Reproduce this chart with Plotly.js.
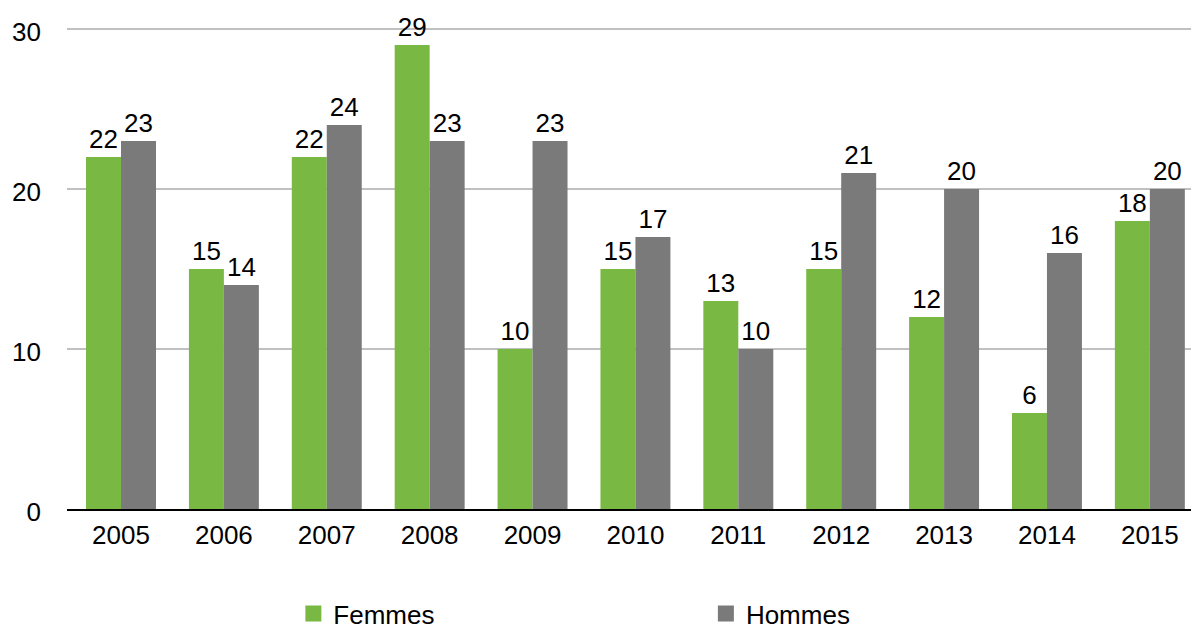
<!DOCTYPE html>
<html><head><meta charset="utf-8">
<script src="https://cdn.plot.ly/plotly-3.0.1.min.js"></script>
<style>html,body{margin:0;padding:0;background:#fff}#c{width:1191px;height:636px}</style>
</head><body><div id="c"></div>
<script>
const years = ["2005","2006","2007","2008","2009","2010","2011","2012","2013","2014","2015"];
const femmes = [22,15,22,29,10,15,13,15,12,6,18];
const hommes = [23,14,24,23,23,17,10,21,20,16,20];
const green = "#79b943", gray = "#7a7a7a";
const font = {family:"Liberation Sans, Arial, sans-serif", size:26, color:"#000"};
const bar = (name, y, color) => ({
  type:"bar", name, x:years, y, marker:{color}, text:y.map(String),
  textposition:"outside", textfont:font, constraintext:"none", cliponaxis:false, showlegend:false,
  hoverinfo:"x+y"
});
const leg = (name, color, legend) => ({
  type:"scatter", mode:"markers", name, x:[null], y:[null], legend,
  marker:{symbol:"square", size:17, color}, showlegend:true
});
const data = [bar("Femmes", femmes, green), bar("Hommes", hommes, gray),
              leg("Femmes", green, "legend"), leg("Hommes", gray, "legend2")];
const legBase = {orientation:"h", xanchor:"left", y:-0.168, yanchor:"top", font, bgcolor:"rgba(0,0,0,0)"};
const layout = {
  width:1191, height:636,
  margin:{l:67, r:0, t:26, b:127, autoexpand:false},
  paper_bgcolor:"#fff", plot_bgcolor:"#fff",
  font,
  barmode:"group", bargap:0.32, bargroupgap:0,
  xaxis:{type:"category", range:[-0.525,10.4], showgrid:false, ticks:"", tickfont:font,
         showline:true, linecolor:"#000", linewidth:2, zeroline:false, ticklabelstandoff:2},
  yaxis:{range:[0,30.1875], tickvals:[0,10,20,30], showgrid:true, gridcolor:"#c0c0c0", gridwidth:2,
         zeroline:false, tickfont:font, ticks:"", ticklabelstandoff:25, ticklabelshift:3},
  legend:Object.assign({x:0.2014}, legBase),
  legend2:Object.assign({x:0.5684}, legBase),
  showlegend:true
};
Plotly.newPlot("c", data, layout, {displayModeBar:false, staticPlot:true});
</script></body></html>
